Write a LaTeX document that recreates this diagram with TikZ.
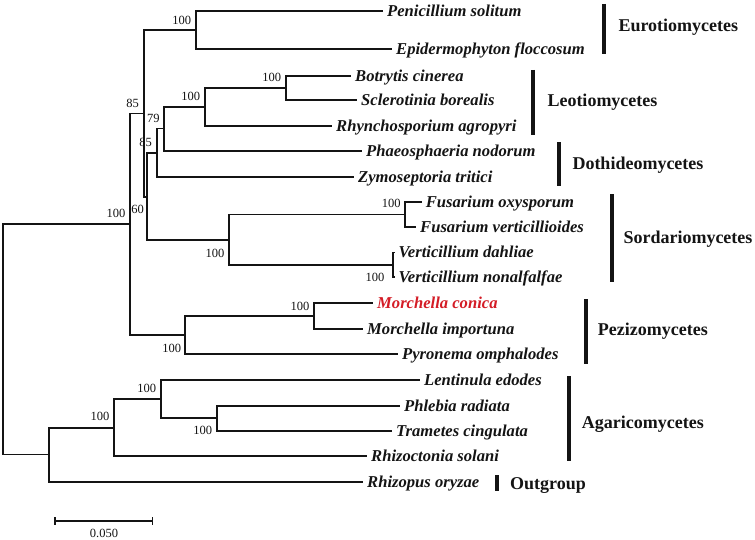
\documentclass[tikz,border=0pt]{standalone}
\usepackage{fontspec}
\setmainfont{Liberation Serif}
\definecolor{mred}{RGB}{212,28,38}
\definecolor{ink}{RGB}{20,20,20}
\begin{document}
\begin{tikzpicture}[x=1pt,y=-1pt,
  br/.style={line width=1.7pt, draw=ink},
  taxon/.style={anchor=west, inner xsep=4pt, inner ysep=0pt, text height=11pt, text depth=0pt, text=ink, font=\fontsize{16.6}{18}\selectfont\bfseries\itshape},
  boot/.style={inner sep=0pt, text=ink, font=\fontsize{12.5}{14}\selectfont},
  grp/.style={anchor=west, inner sep=0pt, text height=12pt, text depth=0pt, text=ink, font=\fontsize{18}{20}\selectfont\bfseries},
  bar/.style={line width=4pt, draw=ink},
  sbar/.style={line width=1.4pt, draw=ink}]
\path[use as bounding box, fill=white] (0,0) rectangle (755,540);
% internal nodes
\coordinate (r) at (3.3,339);
\coordinate (nA) at (130,224);
\coordinate (nG) at (49.3,454.5);
\coordinate (nB) at (144.3,113.5);
\coordinate (nP) at (185.3,335);
\coordinate (nE) at (195.7,30.3);
\coordinate (n60) at (146.7,196.8);
\coordinate (n85) at (157.3,153.3);
\coordinate (nSo) at (228.7,240.3);
\coordinate (n79) at (164,128.5);
\coordinate (nL) at (205,106.8);
\coordinate (nBo) at (285.7,88);
\coordinate (nF) at (405,214.5);
\coordinate (nV) at (393,265);
\coordinate (nM) at (314,316);
\coordinate (nAg) at (114,427.7);
\coordinate (nQ) at (161,399);
\coordinate (nPT) at (216.7,418.3);
% tips
\node[taxon] (pen) at (383,11) {Penicillium solitum};
\node[taxon] (epi) at (392,49.3) {Epidermophyton floccosum};
\node[taxon] (bot) at (351,75.7) {Botrytis cinerea};
\node[taxon] (scl) at (357,100) {Sclerotinia borealis};
\node[taxon] (rhy) at (332,125.7) {Rhynchosporium agropyri};
\node[taxon] (pha) at (362,151) {Phaeosphaeria nodorum};
\node[taxon] (zym) at (354,176.7) {Zymoseptoria tritici};
\node[taxon] (fox) at (421.7,202) {Fusarium oxysporum};
\node[taxon] (fve) at (416,227) {Fusarium verticillioides};
\node[taxon] (vda) at (394.5,252.5) {Verticillium dahliae};
\node[taxon] (vno) at (394.5,277) {Verticillium nonalfalfae};
\node[taxon, text=mred] (mco) at (373,303.3) {Morchella conica};
\node[taxon] (mim) at (363,328.7) {Morchella importuna};
\node[taxon] (pyr) at (398,354.3) {Pyronema omphalodes};
\node[taxon] (len) at (420,380) {Lentinula edodes};
\node[taxon] (phl) at (400,405.7) {Phlebia radiata};
\node[taxon] (tra) at (392,430.7) {Trametes cingulata};
\node[taxon] (rzc) at (367,456) {Rhizoctonia solani};
\node[taxon] (rzp) at (363,481.7) {Rhizopus oryzae};
% branches
\draw[br] (r) |- (nA);
\draw[br] (r) |- (nG);
\draw[br] (nA) |- (nB);
\draw[br] (nA) |- (nP);
\draw[br] (nB) |- (nE);
\draw[br] (nB) |- (n60);
\draw[br] (nE) |- (pen.west);
\draw[br] (nE) |- (epi.west);
\draw[br] (n60) |- (n85);
\draw[br] (n60) |- (nSo);
\draw[br] (n85) |- (n79);
\draw[br] (n85) |- (zym.west);
\draw[br] (n79) |- (nL);
\draw[br] (n79) |- (pha.west);
\draw[br] (nL) |- (nBo);
\draw[br] (nL) |- (rhy.west);
\draw[br] (nBo) |- (bot.west);
\draw[br] (nBo) |- (scl.west);
\draw[br] (nSo) |- (nF);
\draw[br] (nSo) |- (nV);
\draw[br] (nF) |- (fox.west);
\draw[br] (nF) |- (fve.west);
\draw[br] (nV) |- (vda.west);
\draw[br] (nV) |- (vno.west);
\draw[br] (nP) |- (nM);
\draw[br] (nP) |- (pyr.west);
\draw[br] (nM) |- (mco.west);
\draw[br] (nM) |- (mim.west);
\draw[br] (nG) |- (nAg);
\draw[br] (nG) |- (rzp.west);
\draw[br] (nAg) |- (nQ);
\draw[br] (nAg) |- (rzc.west);
\draw[br] (nQ) |- (len.west);
\draw[br] (nQ) |- (nPT);
\draw[br] (nPT) |- (phl.west);
\draw[br] (nPT) |- (tra.west);
% bootstrap values
\node[boot] (b1) at (181.7,20) {100};
\node[boot] (b2) at (271.7,77.3) {100};
\node[boot] (b3) at (190.7,96.7) {100};
\node[boot] (b4) at (132.7,103.3) {85};
\node[boot] (b5) at (153.3,118.3) {79};
\node[boot] (b6) at (145.7,142.3) {85};
\node[boot] (b7) at (137.7,209.3) {60};
\node[boot] (b8) at (116,213.3) {100};
\node[boot] (b9) at (391.3,203.5) {100};
\node[boot] (b10) at (215,253.3) {100};
\node[boot] (b11) at (375,277.7) {100};
\node[boot] (b12) at (300,306) {100};
\node[boot] (b13) at (171.7,348.3) {100};
\node[boot] (b14) at (100,416.7) {100};
\node[boot] (b15) at (146.7,388.3) {100};
\node[boot] (b16) at (202.7,430.7) {100};
% group bars and labels
\coordinate (g1a) at (604.3,4); \coordinate (g1b) at (604.3,54.3);
\draw[bar] (g1a) -- (g1b);
\node[grp] (g1) at (618.3,26) {Eurotiomycetes};
\coordinate (g2a) at (533.3,70); \coordinate (g2b) at (533.3,135);
\draw[bar] (g2a) -- (g2b);
\node[grp] (g2) at (547.3,100.7) {Leotiomycetes};
\coordinate (g3a) at (559,142.3); \coordinate (g3b) at (559,186);
\draw[bar] (g3a) -- (g3b);
\node[grp] (g3) at (572.3,163.3) {Dothideomycetes};
\coordinate (g4a) at (611.7,194.3); \coordinate (g4b) at (611.7,281.7);
\draw[bar] (g4a) -- (g4b);
\node[grp] (g4) at (623.3,237.7) {Sordariomycetes};
\coordinate (g5a) at (586,299.3); \coordinate (g5b) at (586,364.3);
\draw[bar] (g5a) -- (g5b);
\node[grp] (g5) at (597.7,329) {Pezizomycetes};
\coordinate (g6a) at (569.3,376); \coordinate (g6b) at (569.3,461);
\draw[bar] (g6a) -- (g6b);
\node[grp] (g6) at (581.7,422.3) {Agaricomycetes};
\coordinate (g7a) at (496.7,475); \coordinate (g7b) at (496.7,490.7);
\draw[bar] (g7a) -- (g7b);
\node[grp] (g7) at (510,483.3) {Outgroup};
% scale bar
\coordinate (s1) at (55,521);
\coordinate (s2) at (152.3,521);
\draw[sbar] (s1) -- (s2);
\draw[sbar] ([yshift=4pt]s1) -- ([yshift=-4pt]s1);
\draw[sbar] ([yshift=4pt]s2) -- ([yshift=-4pt]s2);
\node[boot] (sl) at (104,533) {0.050};
\end{tikzpicture}
\end{document}
